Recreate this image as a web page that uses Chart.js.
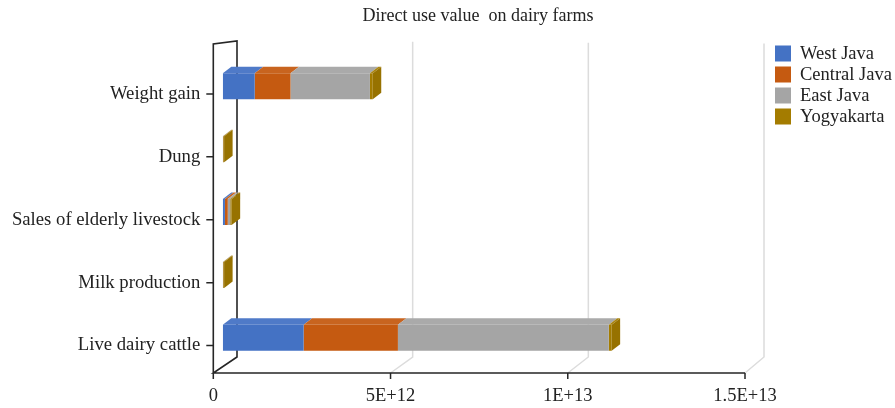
<!DOCTYPE html>
<html>
<head>
<meta charset="utf-8">
<script src="https://cdn.jsdelivr.net/npm/chart.js@4.4.1/dist/chart.umd.min.js"></script>
<style>
  html, body { margin: 0; padding: 0; background: #ffffff; }
  #wrap { width: 895px; height: 408px; }
</style>
</head>
<body>
<div id="wrap"><canvas id="c" width="895" height="408"></canvas></div>
<script>
// Chart text
const chartTitle = 'Direct use value  on dairy farms';
const categories = ['Weight gain', 'Dung', 'Sales of elderly livestock', 'Milk production', 'Live dairy cattle'];
const seriesNames = ['West Java', 'Central Java', 'East Java', 'Yogyakarta'];

// Direct use value per province (Rupiah)
const westJava    = [0.90e12, 0.004e12, 0.06e12, 0.004e12, 2.28e12];
const centralJava = [1.01e12, 0.004e12, 0.08e12, 0.004e12, 2.66e12];
const eastJava    = [2.24e12, 0.004e12, 0.07e12, 0.004e12, 5.95e12];
const yogyakarta  = [0.08e12, 0.025e12, 0.04e12, 0.025e12, 0.08e12];

// Value axis
const xTickLabels = ['0', '5E+12', '1E+13', '1.5E+13'];
const xStep = 5e12;
const xMax = 1.5e13;

const seriesValues = [westJava, centralJava, eastJava, yogyakarta];
const seriesColors = ['#4472C4', '#C55A11', '#A5A5A5', '#A47C00'];

const FONT = 'Liberation Serif';
const TEXT = '#222222';

// 3-D look: bars sit part way into the box, faces offset up/right
const BAR_DX = 9.5, BAR_DY = 7.7;   // shift of bar front faces from the front plane
const FACE_DX = 8.5, FACE_DY = 6.5; // depth of each bar (top / side faces)
const WALL_TOP_FRONT = 44, WALL_TOP_BACK = 41, WALL_TOP_BACK_RIGHT = 43.5;
const FLOOR_FRONT = 373, FLOOR_BACK = 357;
const BACK_LEFT = 237, BACK_RIGHT = 764;

function shade(hex, f) {
  const n = parseInt(hex.slice(1), 16);
  let r = (n >> 16) & 255, g = (n >> 8) & 255, b = n & 255;
  const adj = c => f >= 0 ? Math.round(c + (255 - c) * f) : Math.round(c * (1 + f));
  return `rgb(${adj(r)},${adj(g)},${adj(b)})`;
}

const box3d = {
  id: 'box3d',
  beforeDatasetsDraw(chart) {
    const { ctx, chartArea: a, scales: { x, y } } = chart;
    const left = a.left, right = a.right;
    const backX = px => BACK_LEFT + (px - left) * (BACK_RIGHT - BACK_LEFT) / (right - left);
    const backTop = px => WALL_TOP_BACK + (px - left) / (right - left) * (WALL_TOP_BACK_RIGHT - WALL_TOP_BACK);
    ctx.save();
    // back wall gridlines and floor lines
    ctx.strokeStyle = '#dcdcdc';
    ctx.lineWidth = 1.5;
    x.ticks.forEach(t => {
      if (t.value === 0) return;
      const p = x.getPixelForValue(t.value);
      const bx = backX(p);
      ctx.beginPath();
      ctx.moveTo(p, FLOOR_FRONT);
      ctx.lineTo(bx, FLOOR_BACK);
      ctx.lineTo(bx, backTop(p));
      ctx.stroke();
    });
    // side wall, floor edge and axes
    ctx.strokeStyle = '#262626';
    ctx.lineWidth = 1.6;
    ctx.beginPath();
    ctx.moveTo(left, FLOOR_FRONT);
    ctx.lineTo(left, WALL_TOP_FRONT);
    ctx.lineTo(BACK_LEFT, WALL_TOP_BACK);
    ctx.lineTo(BACK_LEFT, FLOOR_BACK);
    ctx.lineTo(left, FLOOR_FRONT);
    ctx.lineTo(right, FLOOR_FRONT);
    ctx.stroke();
    // tick marks
    ctx.lineWidth = 1.5;
    ctx.beginPath();
    x.ticks.forEach(t => {
      const p = x.getPixelForValue(t.value);
      ctx.moveTo(p, FLOOR_FRONT);
      ctx.lineTo(p, FLOOR_FRONT + 6);
    });
    y.ticks.forEach((t, i) => {
      const p = y.getPixelForTick(i);
      ctx.moveTo(left - 7, p);
      ctx.lineTo(left, p);
    });
    ctx.stroke();
    ctx.restore();

    ctx.save();
    ctx.translate(BAR_DX, -BAR_DY);
  },
  afterDatasetsDraw(chart) {
    const { ctx } = chart;
    const n = chart.data.labels.length;
    chart.data.datasets.forEach((ds, di) => {
      const meta = chart.getDatasetMeta(di);
      meta.data.forEach((bar, i) => {
        const { x, y, base, height } = bar.getProps(['x', 'y', 'base', 'height'], true);
        const top = y - height / 2;
        ctx.fillStyle = shade(seriesColors[di], 0.06);
        ctx.beginPath();
        ctx.moveTo(base, top);
        ctx.lineTo(base + FACE_DX, top - FACE_DY);
        ctx.lineTo(x + FACE_DX, top - FACE_DY);
        ctx.lineTo(x, top);
        ctx.closePath();
        ctx.fill();
      });
    });
    // right-hand face on the outer end of each stack
    for (let i = 0; i < n; i++) {
      let last = -1;
      chart.data.datasets.forEach((ds, di) => { if (ds.data[i] > 0) last = di; });
      if (last < 0) continue;
      const bar = chart.getDatasetMeta(last).data[i];
      const { x, y, height } = bar.getProps(['x', 'y', 'height'], true);
      const top = y - height / 2, bottom = y + height / 2;
      ctx.fillStyle = shade(seriesColors[last], -0.08);
      ctx.beginPath();
      ctx.moveTo(x, top);
      ctx.lineTo(x + FACE_DX, top - FACE_DY);
      ctx.lineTo(x + FACE_DX, bottom - FACE_DY);
      ctx.lineTo(x, bottom);
      ctx.closePath();
      ctx.fill();
    }
    ctx.restore();
  },
  afterDraw(chart) {
    const { ctx } = chart;
    ctx.save();
    ctx.fillStyle = TEXT;
    ctx.font = `18px "${FONT}"`;
    ctx.textAlign = 'center';
    ctx.textBaseline = 'middle';
    ctx.fillText(chartTitle, 478, 16);
    // legend
    ctx.font = `18.5px "${FONT}"`;
    ctx.textAlign = 'left';
    chart.data.datasets.forEach((ds, di) => {
      const cy = 53.5 + di * 21;
      ctx.fillStyle = ds.backgroundColor;
      ctx.fillRect(775, cy - 8, 16, 16);
      ctx.fillStyle = TEXT;
      ctx.fillText(ds.label, 800, cy + 1);
    });
    ctx.restore();
  }
};

new Chart(document.getElementById('c'), {
  type: 'bar',
  data: {
    labels: categories,
    datasets: seriesValues.map((v, i) => ({
      label: seriesNames[i],
      data: v,
      backgroundColor: seriesColors[i],
      borderWidth: 0
    }))
  },
  options: {
    indexAxis: 'y',
    responsive: false,
    animation: false,
    layout: { padding: { left: 0, right: 150, top: 62.5, bottom: 0 } },
    datasets: { bar: { categoryPercentage: 1, barPercentage: 0.413 } },
    plugins: {
      legend: { display: false },
      title: { display: false },
      tooltip: { enabled: false }
    },
    scales: {
      x: {
        stacked: true,
        min: 0,
        max: xMax,
        grid: { display: false, drawTicks: false },
        border: { display: false },
        ticks: {
          stepSize: xStep,
          padding: 8,
          maxRotation: 0,
          color: TEXT,
          font: { family: FONT, size: 18.5 },
          callback: v => xTickLabels[Math.round(v / xStep)]
        },
        afterFit: s => { s.height = 31; }
      },
      y: {
        stacked: true,
        grid: { display: false, drawTicks: false },
        border: { display: false },
        ticks: {
          padding: 13,
          color: TEXT,
          font: { family: FONT, size: 18.7 }
        },
        afterFit: s => { s.width = 213.3; }
      }
    }
  },
  plugins: [box3d]
});
</script>
</body>
</html>
